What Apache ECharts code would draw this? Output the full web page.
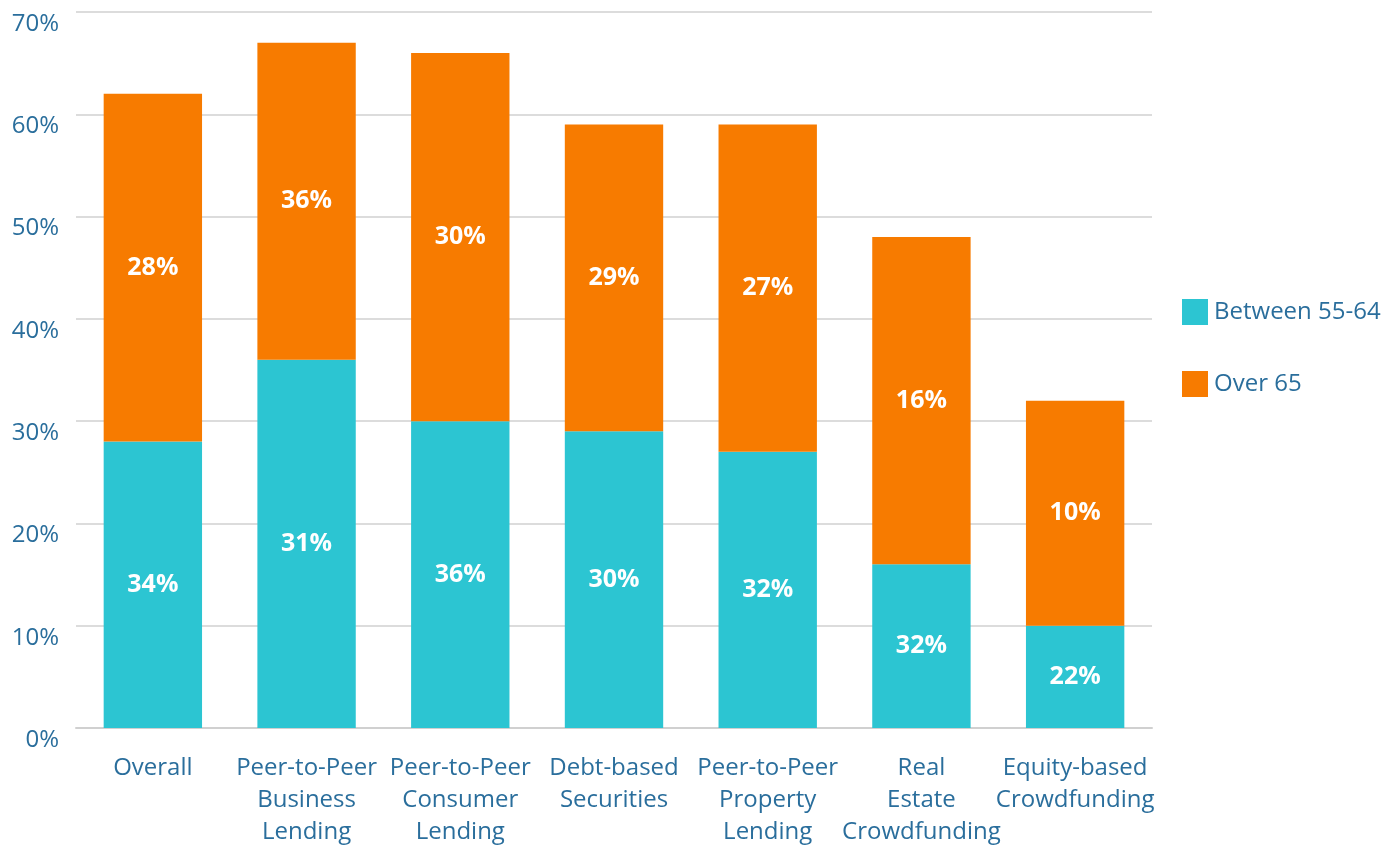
<!DOCTYPE html>
<html>
<head>
<meta charset="utf-8">
<script src="https://cdn.jsdelivr.net/npm/echarts@6/dist/echarts.min.js"></script>
<style>
  html, body { margin: 0; padding: 0; background: #fff; }
  #chart { width: 1400px; height: 848px; }
</style>
</head>
<body>
<div id="chart"></div>
<script>
const categories = [
  "Overall",
  "Peer-to-Peer\nBusiness\nLending",
  "Peer-to-Peer\nConsumer\nLending",
  "Debt-based\nSecurities",
  "Peer-to-Peer\nProperty\nLending",
  "Real\nEstate\nCrowdfunding",
  "Equity-based\nCrowdfunding",
];
// bar heights as drawn in the picture
const between5564 = [28, 36, 30, 29, 27, 16, 10];
const over65 = [34, 31, 36, 30, 32, 32, 22];
// label texts as printed on the bars
const between5564Labels = ["34%", "31%", "36%", "30%", "32%", "32%", "22%"];
const over65Labels = ["28%", "36%", "30%", "29%", "27%", "16%", "10%"];
const yTicks = [0, 10, 20, 30, 40, 50, 60, 70];

const blue = "#2a6e9c";
const font = "Open Sans";

const chart = echarts.init(document.getElementById("chart"));

const barLabel = (texts) => ({
  show: true,
  position: "inside",
  color: "#fff",
  fontFamily: font,
  fontWeight: "bold",
  fontSize: 25,
  formatter: (p) => texts[p.dataIndex],
});

chart.setOption({
  backgroundColor: "#fff",
  animation: false,
  textStyle: { fontFamily: font },
  grid: { left: 76, right: 248, top: 12, bottom: 120 },
  legend: {
    orient: "vertical",
    left: 1182,
    top: 299,
    padding: 0,
    itemWidth: 26,
    itemHeight: 26,
    itemGap: 46,
    icon: "rect",
    textStyle: { color: blue, fontSize: 24, fontFamily: font, padding: [0, 0, 0, 1] },
    data: ["Between 55-64", "Over 65"],
  },
  xAxis: {
    type: "category",
    data: categories,
    axisLine: { show: true, lineStyle: { color: "#d0d0d0", width: 2 } },
    axisTick: { show: false },
    axisLabel: {
      color: blue,
      fontSize: 24,
      lineHeight: 32,
      margin: 24,
      interval: 0,
      fontFamily: font,
    },
  },
  yAxis: {
    type: "value",
    min: yTicks[0],
    max: yTicks[yTicks.length - 1],
    interval: 10,
    axisLine: { show: false },
    axisTick: { show: false },
    splitLine: { lineStyle: { color: "#d0d0d0", width: 1.5 } },
    axisLabel: {
      color: blue,
      fontSize: 24,
      margin: 17,
      verticalAlign: "top",
      lineHeight: 24,
      fontFamily: font,
      formatter: (v) => v + "%",
    },
  },
  series: [
    {
      name: "Between 55-64",
      type: "bar",
      stack: "age",
      barWidth: "64%",
      itemStyle: { color: "#2cc5d2" },
      label: barLabel(between5564Labels),
      data: between5564,
    },
    {
      name: "Over 65",
      type: "bar",
      stack: "age",
      barWidth: "64%",
      itemStyle: { color: "#f77b00" },
      label: barLabel(over65Labels),
      data: over65,
    },
  ],
});
</script>
</body>
</html>
